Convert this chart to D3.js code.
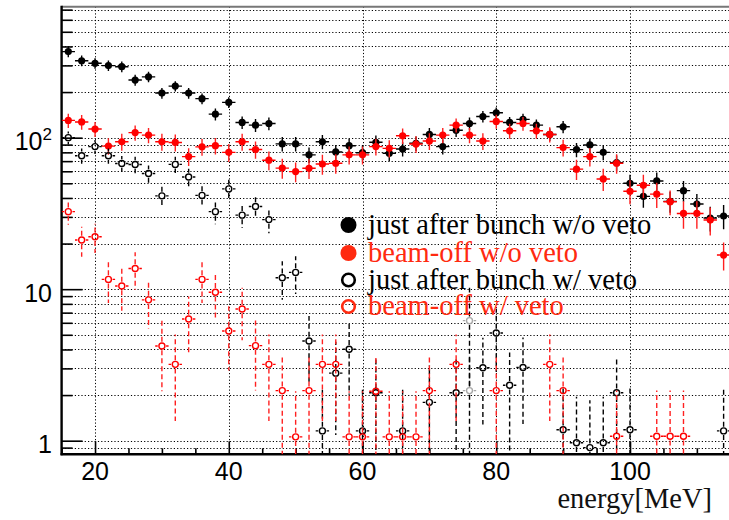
<!DOCTYPE html>
<html><head><meta charset="utf-8">
<script src="https://cdn.jsdelivr.net/npm/d3@7"></script>
<style>body{margin:0;background:#fff}svg{display:block}</style>
</head><body>
<svg id="c" width="729" height="520"></svg>
<script>
// ---- data ----
const bins = [16,18,20,22,24,26,28,30,32,34,36,38,40,42,44,46,48,50,52,54,56,58,60,62,64,66,68,70,72,74,76,78,80,82,84,86,88,90,92,94,96,98,100,102,104,106,108,110,112,114];
const justAfterNoVeto = [370,322,310,299,294,240,252,197,219,197,181,143,171,126,121,124,91,91,77,94,80.5,88.5,79.6,93.3,78.9,84.2,91.8,105,87.3,112,124,138,146,126,132,121,105,118,83.4,89.5,80,68.4,50,41,51.8,38,44.7,36.5,29.5,30.4];
const justAfterNoVetoErr = [30,26,25,24,24,20,20,16,17,16,15,13,14,12,12,12,10,10,9,10,9,10,9,10,9,9,10,11,10,11,12,12,12,11,12,11,10,11,9,9,9,8,7,6.5,7,6,7,6,5.5,5.5];
const beamOffNoVeto = [130,127,114,88,94,108,104,94,93,75,87,88.5,80,94,83.5,71,63,59.7,62.8,67,67.8,77,77,87.3,85,103,90.8,95,104,121,104,95,128,111,124,111,105,86,62,75,53.4,67.8,44.3,48.5,42.4,37.8,31.6,31.6,28.6,16.8];
const beamOffNoVetoErr = [14,14,13,11,12,12.5,12,12,12,10,11,11,11,12,11,10,9.5,9,9.5,10,10,10.5,10.5,11,11,12,11.5,12,12,13,12,12,13.5,12.5,13,12.5,12,11,9.5,10.5,9,10,8,8.5,8,7,6.5,6.5,6,3.5];
const justAfterVeto = [100,76,87.3,76,67.5,66.5,58,41.3,66.6,55,41.6,32.5,45.9,30.8,35.1,28.8,11.9,12.9,4.55,1.16,2.79,4.01,1.16,2.07,null,1.16,null,1.79,null,2.07,6.2,3.03,5.14,2.32,3.04,null,null,1.18,0.97,0.90,0.97,2.07,1.18,null,null,null,null,null,null,1.16];
const justAfterVetoErr = [10,8.7,9.3,8.7,8.2,8.2,7.6,6.4,8.2,7.4,6.5,5.7,6.8,5.5,5.9,5.4,3.4,3.6,2.1,1.1,1.7,2.0,1.1,1.45,null,1.1,null,1.35,null,1.45,4,1.75,2.3,1.5,1.75,null,null,1.1,0.98,0.95,0.98,1.45,1.1,null,null,null,null,null,null,1.1];
const fadedBins = [76];
const beamOffVeto = [32.5,21.1,22.2,11.6,10.5,13.7,8.5,4.22,3.19,6.36,11.6,9.55,5.3,7.4,4.24,3.19,2.14,1.06,2.14,3.19,3.19,1.06,1.06,2.12,1.06,1.06,1.06,2.14,null,3.19,2.14,null,2.14,null,null,null,3.19,2.14,null,null,null,1.07,null,null,1.07,1.07,1.07,null,null,null];
const beamOffVetoErr = [5.9,4.7,4.85,3.5,3.3,3.8,3.0,2.1,1.84,2.6,3.5,3.2,2.4,2.8,2.1,1.84,1.5,1.06,1.5,1.84,1.84,1.06,1.06,1.5,1.06,1.06,1.06,1.5,null,1.84,1.5,null,1.5,null,null,null,1.84,1.5,null,null,null,1.07,null,null,1.07,1.07,1.07,null,null,null];
const binHalfWidth = 1;
const xMajorTicks = [20,40,60,80,100];
const yMajorTicks = [1,10,100];
const yTickLabels = ["1","10","10|2"];
const legendLabels = ["just after bunch w/o veto","beam-off w/o veto","just after bunch w/ veto","beam-off w/ veto"];
const xTitle = "energy[MeV]";

// ---- layout ----
const svg = d3.select("#c");
const L = 61.6, R = 730.3, T = 6.7, B = 454.3;
const x = d3.scaleLinear().domain([15,115]).range([L,R]);
const y = d3.scaleLog().domain([0.813,732]).range([B,T]);
const RED = "#ff0000", BLACK = "#000";

svg.append("defs").append("clipPath").attr("id","clip")
  .append("rect").attr("x",L).attr("y",T).attr("width",729-L).attr("height",B-T);

// grid
const grid = svg.append("g").attr("stroke","#000").attr("stroke-width",1).attr("stroke-dasharray","1.2,2.1").attr("fill","none");
y.ticks().forEach(v=>{
  const yy = Math.round(y(v))+0.5;
  grid.append("line").attr("x1",L).attr("x2",729).attr("y1",yy).attr("y2",yy);
});
xMajorTicks.forEach(v=>{
  const xx = Math.round(x(v))+0.5;
  grid.append("line").attr("x1",xx).attr("x2",xx).attr("y1",T).attr("y2",B);
});

// axes
const yAxisMinor = d3.axisLeft(y).tickValues(y.ticks().filter(v=>!yMajorTicks.includes(v))).tickSize(-11).tickFormat("");
const yAxisMajor = d3.axisLeft(y).tickValues(yMajorTicks).tickSize(-21).tickFormat("");
const xMinor = d3.range(15,116,5).filter(v=>!xMajorTicks.includes(v));
const xAxisMinor = d3.axisBottom(x).tickValues(xMinor).tickSize(-6).tickFormat("");
const xAxisMajor = d3.axisBottom(x).tickValues(xMajorTicks).tickSize(-13).tickFormat("");
[ [yAxisMinor,`translate(${L},0)`],[yAxisMajor,`translate(${L},0)`],[xAxisMinor,`translate(0,${B})`],[xAxisMajor,`translate(0,${B})`] ].forEach(([ax,tr])=>{
  const g = svg.append("g").attr("transform",tr).call(ax);
  g.select(".domain").remove();
  g.selectAll(".tick line").attr("stroke","#000").attr("stroke-width",1.6);
});
// frame
svg.append("line").attr("x1",L).attr("x2",729).attr("y1",T).attr("y2",T).attr("stroke","#777").attr("stroke-width",2);
svg.append("line").attr("x1",L).attr("x2",L).attr("y1",T-1).attr("y2",B+1).attr("stroke","#000").attr("stroke-width",2.4);
svg.append("line").attr("x1",L-1).attr("x2",729).attr("y1",B).attr("y2",B).attr("stroke","#000").attr("stroke-width",2.4);

// tick labels
const numFont = "'Liberation Sans', Arial, sans-serif";
xMajorTicks.forEach(v=>{
  svg.append("text").attr("x",x(v)).attr("y",480).attr("text-anchor","middle")
    .attr("font-family",numFont).attr("font-size",25).attr("fill","#000").text(v);
});
yMajorTicks.forEach((v,i)=>{
  const parts = yTickLabels[i].split("|");
  const t = svg.append("text").attr("x",52).attr("y",y(v)+12.5).attr("text-anchor","end")
    .attr("font-family",numFont).attr("font-size",25).attr("fill","#000");
  t.append("tspan").text(parts[0]);
  if(parts[1]) t.append("tspan").attr("font-size",17).attr("dy",-10).text(parts[1]);
});
svg.append("text").attr("x",712).attr("y",508).attr("text-anchor","end")
  .attr("font-family","'Liberation Serif','Times New Roman',serif").attr("font-size",28.5).attr("fill","#111").text(xTitle);

// data
const plot = svg.append("g").attr("clip-path","url(#clip)");
const MR = 3.6;
function drawSeries(vals, errs, color, open, barColor){
  const data = bins.map((b,i)=>({b, v:vals[i], e:errs[i]})).filter(d=>d.v!=null);
  const g = plot.append("g");
  data.forEach(d=>{
    const c = open && fadedBins.includes(d.b) ? "#a8a8a8" : color;
    const bc = open && fadedBins.includes(d.b) ? "#000" : barColor;
    const cx = x(d.b), cy = y(d.v);
    const top = y(d.v + d.e);
    const low = d.v - d.e > 0 ? Math.min(y(d.v-d.e), B) : B;
    const gap = open ? MR+0.6 : 0;
    const va = g.append("g").attr("stroke",bc).attr("stroke-width",1.4).attr("fill","none");
    const dash = open ? "5,3" : null;
    va.append("line").attr("x1",cx).attr("x2",cx).attr("y1",cy-gap).attr("y2",top).attr("stroke-dasharray",dash);
    va.append("line").attr("x1",cx).attr("x2",cx).attr("y1",cy+gap).attr("y2",low).attr("stroke-dasharray",dash);
    va.append("line").attr("x1",x(d.b-binHalfWidth)).attr("x2",cx-gap).attr("y1",cy).attr("y2",cy).attr("stroke",c);
    va.append("line").attr("x1",cx+gap).attr("x2",x(d.b+binHalfWidth)).attr("y1",cy).attr("y2",cy).attr("stroke",c);
    if(open){
      g.append("circle").attr("cx",cx).attr("cy",cy).attr("r",MR-0.6).attr("fill","none").attr("stroke",c).attr("stroke-width",1.4);
    } else {
      g.append("circle").attr("cx",cx).attr("cy",cy).attr("r",MR).attr("fill",c);
    }
  });
}
drawSeries(justAfterNoVeto, justAfterNoVetoErr, BLACK, false, BLACK);
drawSeries(beamOffNoVeto, beamOffNoVetoErr, RED, false, "#ff2020");
drawSeries(justAfterVeto, justAfterVetoErr, BLACK, true, BLACK);
drawSeries(beamOffVeto, beamOffVetoErr, RED, true, "#ff2020");

// legend
const LRED = "#ff2a10";
const legendStyles = [
  {color:BLACK, open:false},{color:LRED, open:false},{color:BLACK, open:true},{color:LRED, open:true}
];
const legY = [225,253,280,306.5];
legendLabels.forEach((lab,i)=>{
  const s = legendStyles[i];
  if(s.open){
    svg.append("circle").attr("cx",348.5).attr("cy",legY[i]).attr("r",6.3).attr("fill","none").attr("stroke",s.color).attr("stroke-width",2.6);
  } else {
    svg.append("circle").attr("cx",348.5).attr("cy",legY[i]).attr("r",8).attr("fill",s.color);
  }
  svg.append("text").attr("x",368).attr("y",legY[i]+8.5)
    .attr("font-family","'Liberation Serif','Times New Roman',serif").attr("font-size",28.5)
    .attr("fill",s.color).text(lab);
});
</script>
</body></html>
